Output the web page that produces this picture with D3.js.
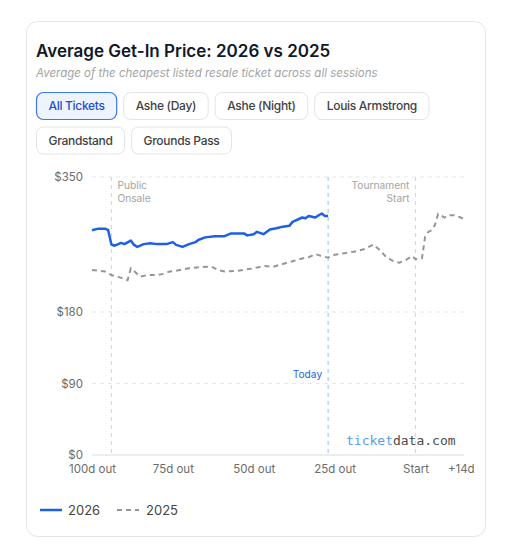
<!DOCTYPE html>
<html><head><meta charset="utf-8">
<script src="https://cdn.jsdelivr.net/npm/d3@7"></script>
<style>body{margin:0;background:#fff;font-family:Inter,"Noto Sans",sans-serif;} svg{display:block}</style>
</head><body><svg id="c" width="512" height="551"></svg>
<script>
const title = "Average Get-In Price: 2026 vs 2025";
const subtitle = "Average of the cheapest listed resale ticket across all sessions";
const filters = ["All Tickets","Ashe (Day)","Ashe (Night)","Louis Armstrong","Grandstand","Grounds Pass"];
const activeFilter = "All Tickets";
const yTicks = [0, 90, 180, 350];
const xTicks = [-100, -75, -50, -25, 0, 14];
const xTickLabels = ["100d out","75d out","50d out","25d out","Start","+14d"];
const days2026 = [-100,-98,-96,-95,-94,-93,-91,-90,-88,-87,-86,-84,-82,-80,-77,-75,-74,-72,-70,-68,-67,-65,-62,-59,-57,-53,-52,-50,-49,-47,-45,-43,-41,-39,-38,-35,-34,-33,-31,-29,-28,-27];
const prices2026 = [283,285,285,283,265,263.5,267,265.5,270,264.5,262,265.5,266.5,265.5,265.5,268,264.5,262,265.5,268,271,274,275.5,275.5,279,279,276.5,278,281,278,284,285.5,287.5,288.5,293.5,299,298,301,299,304,301,301];
const days2025 = [-100,-98,-96,-94,-92,-89,-88,-86,-85,-83,-80,-78,-76,-74,-70,-67,-63,-61,-59,-55,-50,-47,-44,-41,-38,-35,-33,-31,-29,-27,-25,-22,-19,-16,-13,-11,-9,-7,-5,-3,-1,0,2,3,4,5,6,7,9,10,12,14,15];
const prices2025 = [233,232,231,226.5,224.5,220,235,228,224.5,226.5,226.5,228,231,232,235,236.5,237,233,231,232,235,238,237,240.5,244,247.5,249,253,250.5,248.5,252,254,256,259,265,258,249,244.5,242,245.5,250.5,246.5,247.5,275,281,283,289.5,303.5,299,302,302,299,297];
const markerDays = [-94, -27, 0];
const markerLabels = [["Public","Onsale"], ["Today"], ["Tournament","Start"]];
const legendLabels = ["2026","2025"];

const svg = d3.select("#c");
const blue = "#1f5fe6";
const gray = "#969696";

// card
svg.append("rect").attr("x",26.5).attr("y",21.5).attr("width",459).attr("height",515)
  .attr("rx",11).attr("fill","#fff").attr("stroke","#e3e5e8");

svg.append("text").attr("x",36).attr("y",57).attr("font-size",17).attr("font-weight",600)
  .attr("fill","#111827").text(title);
svg.append("text").attr("x",36).attr("y",77).attr("font-size",11.5).attr("font-style","italic")
  .attr("fill","#a3a3a3").text(subtitle);

// filter buttons
let bx = 36, by = 92.5;
const bh = 27, gap = 7, pad = 12, maxX = 476;
filters.forEach(f => {
  const g = svg.append("g");
  const t = g.append("text").attr("font-size",12).attr("font-weight",500).attr("letter-spacing",-0.3)
    .attr("fill", f===activeFilter? "#1d4ed8" : "#3f3f46").text(f);
  const w = t.node().getComputedTextLength() + pad*2;
  if (bx + w > maxX) { bx = 36; by += bh + 7.5; }
  g.insert("rect","text").attr("x",bx+0.5).attr("y",by).attr("width",w).attr("height",bh).attr("rx",7)
    .attr("fill", f===activeFilter? "#eef4ff" : "#fff")
    .attr("stroke", f===activeFilter? "#3b76f0" : "#e2e4e8").attr("stroke-width", f===activeFilter?1.2:1);
  t.attr("x", bx + w/2 + 0.5).attr("y", by + bh/2 + 4.3).attr("text-anchor","middle");
  bx += w + gap;
});

// scales
const x = d3.scaleLinear().domain([-100, 15]).range([92, 464]);
const y = d3.scaleLinear().domain([0, 350]).range([455, 177]);

// grid
svg.append("g").selectAll("line").data(yTicks.filter(d=>d>0)).join("line")
  .attr("x1",92).attr("x2",464).attr("y1",d=>y(d)).attr("y2",d=>y(d))
  .attr("stroke","#e5e7eb").attr("stroke-dasharray","4,4");
svg.append("line").attr("x1",92).attr("x2",464).attr("y1",y(0)).attr("y2",y(0))
  .attr("stroke","#e5e7eb").attr("stroke-width",1.5);

// y axis
const yAxis = d3.axisLeft(y).tickValues(yTicks).tickSize(0).tickPadding(9).tickFormat(d=>"$"+d);
const yg = svg.append("g").attr("transform","translate(92,0)").call(yAxis);
yg.select(".domain").remove();
yg.selectAll("text").attr("font-size",11.5).attr("font-family","Inter").attr("fill","#6b6b6b");

// x axis
const xAxis = d3.axisBottom(x).tickValues(xTicks).tickSize(0).tickPadding(10)
  .tickFormat((d,i)=>xTickLabels[i]);
const xg = svg.append("g").attr("transform","translate(0,455)").call(xAxis);
xg.select(".domain").remove();
xg.selectAll("text").attr("font-size",11.5).attr("font-family","Inter").attr("fill","#6b6b6b");

// marker lines
markerDays.forEach((d,i) => {
  const isToday = markerLabels[i][0] === "Today";
  svg.append("line").attr("x1",x(d)).attr("x2",x(d)).attr("y1",177).attr("y2",455)
    .attr("stroke", isToday ? "#a8c8f0" : "#d9d9d9").attr("stroke-dasharray","4,4").attr("stroke-width",1.2);
});
// marker labels
svg.append("text").attr("font-size",10.2).attr("fill","#a3a3a3")
  .selectAll("tspan").data(markerLabels[0]).join("tspan").attr("x",x(markerDays[0])+6)
  .attr("y",(d,i)=>188.5+i*13.5).text(d=>d);
svg.append("text").attr("text-anchor","end").attr("font-size",10.2).attr("fill","#a3a3a3")
  .selectAll("tspan").data(markerLabels[2]).join("tspan").attr("x",x(markerDays[2])-6)
  .attr("y",(d,i)=>188.5+i*13.5).text(d=>d);
svg.append("text").attr("text-anchor","end").attr("font-size",10.2).attr("fill",blue)
  .attr("x",x(markerDays[1])-6).attr("y",378).text(markerLabels[1][0]);

// lines
const line = d3.line().x(d=>x(d[0])).y(d=>y(d[1]));
const d25 = days2025.map((d,i)=>[d, prices2025[i]]);
const d26 = days2026.map((d,i)=>[d, prices2026[i]]);
svg.append("path").attr("d", line(d25)).attr("fill","none").attr("stroke",gray)
  .attr("stroke-width",2).attr("stroke-dasharray","5,4");
svg.append("path").attr("d", line(d26)).attr("fill","none").attr("stroke",blue)
  .attr("stroke-width",2.5).attr("stroke-linejoin","round");

// watermark
const wm = svg.append("text").attr("x",346).attr("y",445).attr("font-family","DejaVu Sans Mono")
  .attr("font-size",13);
wm.append("tspan").attr("fill","#5b9cf0").text("ticket");
wm.append("tspan").attr("fill","#4b4b4b").text("data.com");

// legend
svg.append("line").attr("x1",40).attr("x2",62).attr("y1",510).attr("y2",510).attr("stroke",blue).attr("stroke-width",2.5);
svg.append("text").attr("x",68).attr("y",514.5).attr("font-size",13).attr("fill","#444").text(legendLabels[0]);
svg.append("line").attr("x1",117).attr("x2",139).attr("y1",510).attr("y2",510).attr("stroke",gray).attr("stroke-width",2).attr("stroke-dasharray","5,4");
svg.append("text").attr("x",146).attr("y",514.5).attr("font-size",13).attr("fill","#444").text(legendLabels[1]);
</script></body></html>
